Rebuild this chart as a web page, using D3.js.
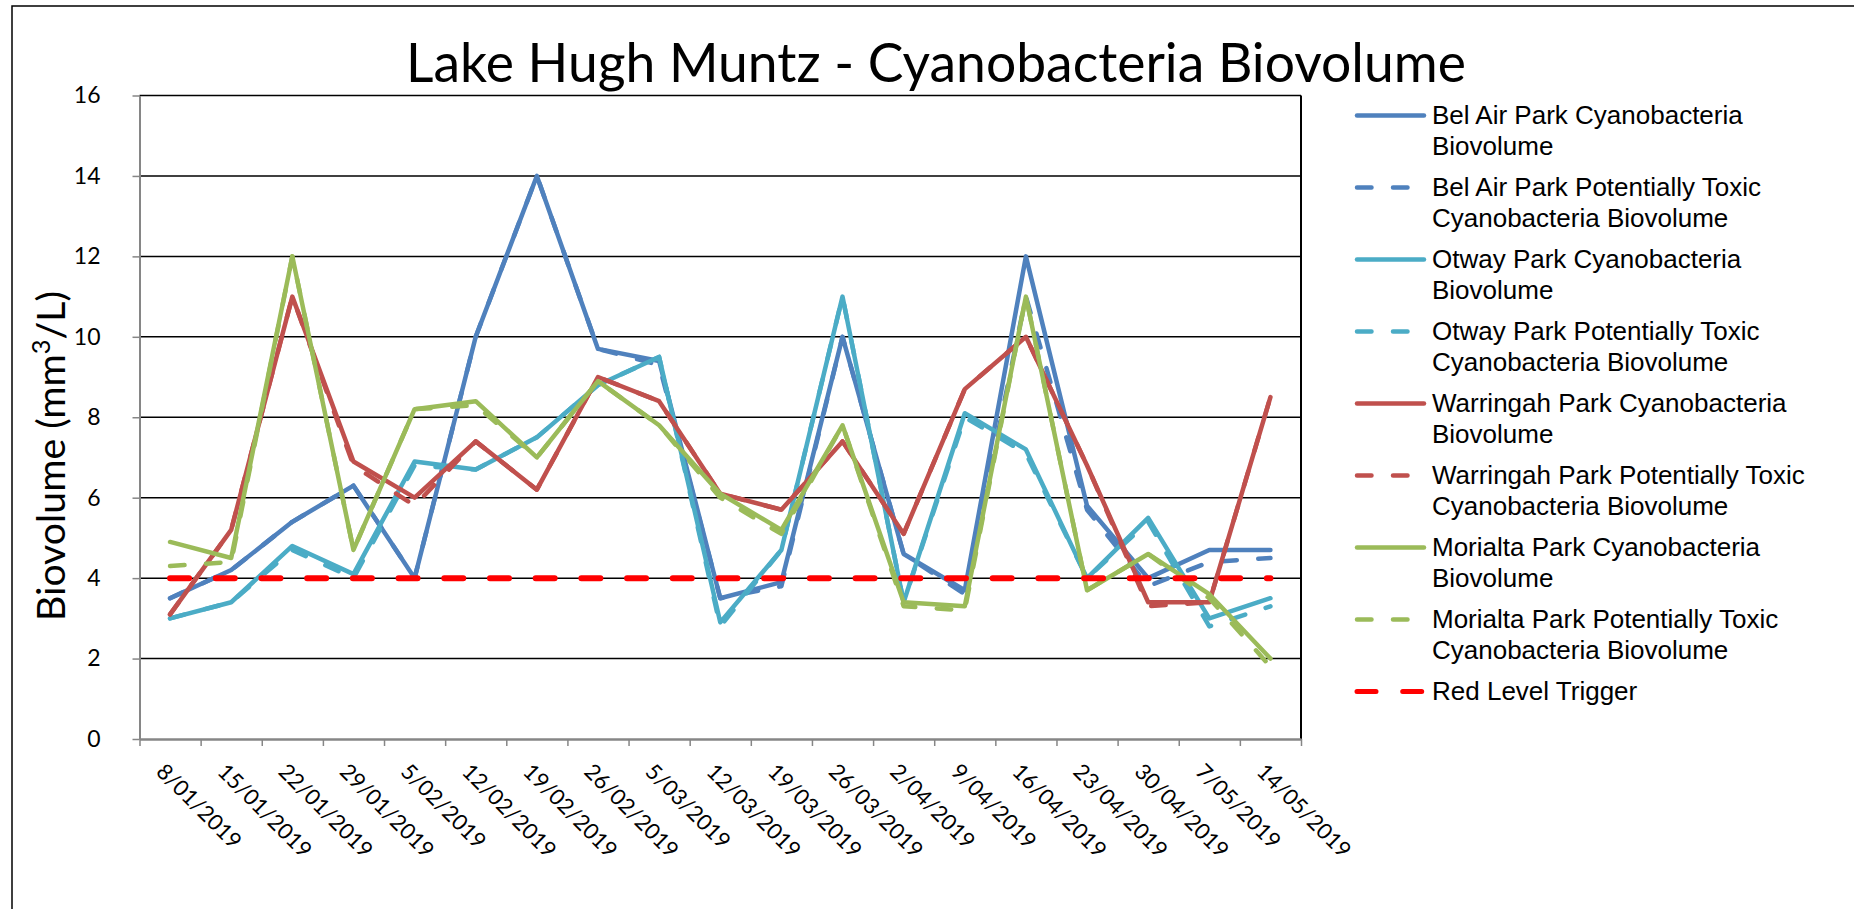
<!DOCTYPE html>
<html>
<head>
<meta charset="utf-8">
<script src="https://cdn.jsdelivr.net/npm/d3@7"></script>
<style>
    body { margin: 0; background: #fff; }
    svg { display: block; }
</style>
</head>
<body>
<svg id="chart" width="1854" height="909"></svg>
<script>
// sample dates (x categories)
const dates = [
    "8/01/2019", "15/01/2019", "22/01/2019", "29/01/2019", "5/02/2019",
    "12/02/2019", "19/02/2019", "26/02/2019", "5/03/2019", "12/03/2019",
    "19/03/2019", "26/03/2019", "2/04/2019", "9/04/2019", "16/04/2019",
    "23/04/2019", "30/04/2019", "7/05/2019", "14/05/2019",
];

// biovolume readings, mm3/L
const belAir = [3.5, 4.2, 5.4, 6.3, 4.0, 10.0, 14.0, 9.7, 9.4, 3.5, 3.9, 10.0, 4.6, 3.7, 12.0, 5.8, 4.0, 4.7, 4.7];
const belAirToxic = [3.5, 4.2, 5.4, 6.3, 4.0, 10.0, 14.0, 9.7, 9.3, 3.5, 3.8, 10.0, 4.6, 3.6, 11.0, 5.7, 3.8, 4.4, 4.5];
const otway = [3.0, 3.4, 4.8, 4.1, 6.9, 6.7, 7.5, 8.8, 9.5, 2.9, 4.7, 11.0, 3.4, 8.1, 7.2, 4.0, 5.5, 3.0, 3.5];
const otwayToxic = [3.0, 3.4, 4.7, 4.0, 6.8, 6.7, 7.5, 8.8, 9.5, 2.8, 4.7, 11.0, 3.4, 8.0, 7.1, 4.0, 5.4, 2.8, 3.3];
const warringah = [3.1, 5.2, 11.0, 6.9, 6.0, 7.4, 6.2, 9.0, 8.4, 6.1, 5.7, 7.4, 5.1, 8.7, 10.0, 6.8, 3.4, 3.4, 8.5];
const warringahToxic = [3.1, 5.2, 11.0, 6.8, 5.8, 7.4, 6.2, 9.0, 8.4, 6.1, 5.7, 7.4, 5.1, 8.7, 10.0, 6.8, 3.3, 3.4, 8.5];
const morialta = [4.9, 4.5, 12.0, 4.7, 8.2, 8.4, 7.0, 8.9, 7.8, 6.1, 5.2, 7.8, 3.4, 3.3, 11.0, 3.7, 4.6, 3.6, 2.0];
const morialtaToxic = [4.3, 4.4, 12.0, 4.7, 8.2, 8.3, 7.0, 8.9, 7.8, 6.0, 5.1, 7.8, 3.3, 3.2, 11.0, 3.7, 4.6, 3.5, 1.8];
const redTrigger = [4, 4, 4, 4, 4, 4, 4, 4, 4, 4, 4, 4, 4, 4, 4, 4, 4, 4, 4];

const yTicks = [0, 2, 4, 6, 8, 10, 12, 14, 16];

// legend text, broken the same way as the original
const legendLabels = [
    ["Bel Air Park Cyanobacteria", "Biovolume"],
    ["Bel Air Park Potentially Toxic", "Cyanobacteria Biovolume"],
    ["Otway Park Cyanobacteria", "Biovolume"],
    ["Otway Park Potentially Toxic", "Cyanobacteria Biovolume"],
    ["Warringah Park Cyanobacteria", "Biovolume"],
    ["Warringah Park Potentially Toxic", "Cyanobacteria Biovolume"],
    ["Morialta Park Cyanobacteria", "Biovolume"],
    ["Morialta Park Potentially Toxic", "Cyanobacteria Biovolume"],
    ["Red Level Trigger"],
];

const colours = {
    belAir: "#4F81BD",
    otway: "#4BACC6",
    warringah: "#C0504D",
    morialta: "#9BBB59",
    trigger: "#FF0000",
};

const biovolumePlot = () => {
    let width;
    let height;
    let categories;
    let series;
    let labels;

    const plot = { left: 139.5, right: 1301, top: 95.5, bottom: 739 };
    const labelFont = "Lato, 'Open Sans', sans-serif";

    // shrink / grow a text element until it is the wanted length
    const fitText = (text, target) => {
        const size = parseFloat(text.attr("font-size"));
        const w = text.node().getComputedTextLength();
        text.attr("font-size", (size * target) / w);
    };

    const my = (selection) => {
        selection.attr("width", width).attr("height", height);

        selection
            .append("rect")
            .attr("width", width)
            .attr("height", height)
            .attr("fill", "#fff");

        // chart area border (runs off the right and bottom edges)
        selection
            .append("path")
            .attr("d", `M12,${height} L12,6 L${width},6`)
            .attr("fill", "none")
            .attr("stroke", "#000")
            .attr("stroke-width", 1.5);

        const x = d3
            .scaleBand()
            .domain(categories)
            .range([plot.left, plot.right]);

        const xEdge = d3
            .scaleLinear()
            .domain([0, categories.length])
            .range([plot.left, plot.right]);

        const y = d3
            .scaleLinear()
            .domain([0, 16])
            .range([plot.bottom, plot.top]);

        const cx = (d) => x(d) + x.bandwidth() / 2;

        // gridlines
        selection
            .append("g")
            .selectAll("line")
            .data(yTicks.filter((d) => d > 0))
            .join("line")
            .attr("x1", plot.left)
            .attr("x2", plot.right)
            .attr("y1", (d) => y(d))
            .attr("y2", (d) => y(d))
            .attr("stroke", "#000")
            .attr("stroke-width", 1.5);

        selection
            .append("line")
            .attr("x1", plot.right)
            .attr("x2", plot.right)
            .attr("y1", plot.top)
            .attr("y2", plot.bottom)
            .attr("stroke", "#000")
            .attr("stroke-width", 2);

        // y axis
        const yAxis = selection
            .append("g")
            .attr("transform", `translate(${plot.left},0)`)
            .call(
                d3
                    .axisLeft(y)
                    .tickValues(yTicks)
                    .tickSize(7)
                    .tickSizeOuter(0)
                    .tickPadding(32)
            );
        yAxis.select(".domain").attr("stroke", "#868686").attr("stroke-width", 2);
        yAxis.selectAll(".tick line").attr("stroke", "#868686").attr("stroke-width", 1.5);
        yAxis
            .selectAll(".tick text")
            .attr("font-family", labelFont)
            .attr("font-size", 23)
            .attr("fill", "#000");

        // x axis, ticks between categories
        const xAxis = selection
            .append("g")
            .attr("transform", `translate(0,${plot.bottom})`)
            .call(
                d3
                    .axisBottom(xEdge)
                    .tickValues(d3.range(categories.length + 1))
                    .tickFormat("")
                    .tickSize(7)
                    .tickSizeOuter(0)
            );
        xAxis.select(".domain").attr("stroke", "#868686").attr("stroke-width", 2.5);
        xAxis.selectAll(".tick line").attr("stroke", "#868686").attr("stroke-width", 1.5);

        selection
            .append("g")
            .selectAll("text")
            .data(categories)
            .join("text")
            .attr("transform", (d) => `translate(${cx(d) - 15},773) rotate(45)`)
            .attr("font-family", labelFont)
            .attr("font-size", 22)
            .attr("fill", "#000")
            .text((d) => d);

        // series lines
        const line = d3
            .line()
            .x((d, i) => cx(categories[i]))
            .y((d) => y(d));

        selection
            .append("g")
            .selectAll("path")
            .data(series)
            .join("path")
            .attr("d", (d) => line(d.values))
            .attr("fill", "none")
            .attr("stroke", (d) => d.colour)
            .attr("stroke-width", (d) => d.width)
            .attr("stroke-dasharray", (d) => d.dash)
            .attr("stroke-linecap", "round")
            .attr("stroke-linejoin", "round");

        // title
        const title = selection
            .append("text")
            .attr("x", 936)
            .attr("y", 81.5)
            .attr("text-anchor", "middle")
            .attr("font-family", labelFont)
            .attr("font-size", 52)
            .attr("fill", "#000")
            .text("Lake Hugh Muntz - Cyanobacteria Biovolume");
        fitText(title, 1060);

        // y axis title
        const yTitle = selection
            .append("text")
            .attr("transform", "translate(64.5,456) rotate(-90)")
            .attr("text-anchor", "middle")
            .attr("font-family", labelFont)
            .attr("font-size", 40)
            .attr("fill", "#000");
        yTitle.append("tspan").text("Biovolume (mm");
        yTitle.append("tspan").attr("font-size", "0.65em").attr("baseline-shift", "super").text("3");
        yTitle.append("tspan").text("/L)");
        fitText(yTitle, 330);

        // legend
        const legend = selection
            .append("g")
            .selectAll(".legend-item")
            .data(series)
            .join("g")
            .attr("class", "legend-item")
            .attr("transform", (d, i) => `translate(1357, ${124 + i * 72})`);

        legend
            .append("line")
            .attr("x1", 0)
            .attr("x2", 67)
            .attr("y1", -8.5)
            .attr("y2", -8.5)
            .attr("stroke", (d) => d.colour)
            .attr("stroke-width", (d) => (d.width > 5 ? 5 : 4.5))
            .attr("stroke-dasharray", (d) => d.dash)
            .attr("stroke-linecap", "round");

        legend
            .append("text")
            .attr("x", 75)
            .attr("font-family", "'Liberation Sans', Arial, sans-serif")
            .attr("font-size", 26)
            .attr("fill", "#000")
            .selectAll("tspan")
            .data((d, i) => labels[i])
            .join("tspan")
            .attr("x", 75)
            .attr("y", (d, j) => j * 30.5)
            .text((d) => d);
    };

    my.width = function (_) {
        return arguments.length ? ((width = _), my) : width;
    };
    my.height = function (_) {
        return arguments.length ? ((height = _), my) : height;
    };
    my.categories = function (_) {
        return arguments.length ? ((categories = _), my) : categories;
    };
    my.series = function (_) {
        return arguments.length ? ((series = _), my) : series;
    };
    my.labels = function (_) {
        return arguments.length ? ((labels = _), my) : labels;
    };

    return my;
};

const solid = null;
const toxicDash = "14.5,21.5";

const series = [
    { values: belAir, colour: colours.belAir, width: 4.5, dash: solid },
    { values: belAirToxic, colour: colours.belAir, width: 4.5, dash: toxicDash },
    { values: otway, colour: colours.otway, width: 4.5, dash: solid },
    { values: otwayToxic, colour: colours.otway, width: 4.5, dash: toxicDash },
    { values: warringah, colour: colours.warringah, width: 4.5, dash: solid },
    { values: warringahToxic, colour: colours.warringah, width: 4.5, dash: toxicDash },
    { values: morialta, colour: colours.morialta, width: 4.5, dash: solid },
    { values: morialtaToxic, colour: colours.morialta, width: 4.5, dash: toxicDash },
    { values: redTrigger, colour: colours.trigger, width: 6, dash: "19,26.7" },
];

const chart = biovolumePlot()
    .width(1854)
    .height(909)
    .categories(dates)
    .series(series)
    .labels(legendLabels);

d3.select("#chart").call(chart);
</script>
</body>
</html>
